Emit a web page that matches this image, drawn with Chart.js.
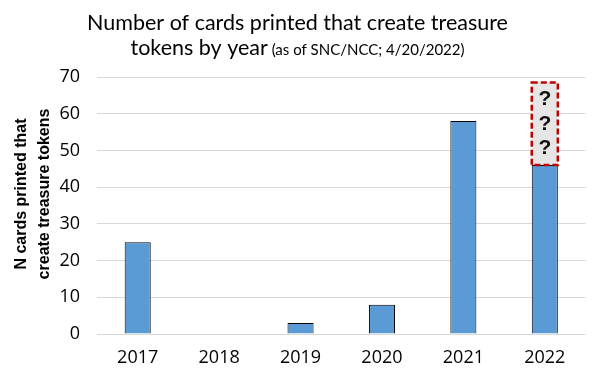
<!DOCTYPE html>
<html>
<head>
<meta charset="utf-8">
<script src="https://cdn.jsdelivr.net/npm/chart.js@4"></script>
<style>
  html, body { margin: 0; padding: 0; background: #fff; }
  #wrap { width: 595px; height: 371px; }
</style>
</head>
<body>
<div id="wrap"><canvas id="myChart"></canvas></div>
<script>
// data
const years = ['2017', '2018', '2019', '2020', '2021', '2022'];
const printed = [25, 0, 3, 8, 58, 46];
const unknown = [0, 0, 0, 0, 0, 22.5];
const yTicks = [0, 10, 20, 30, 40, 50, 60, 70];

const titleLine1 = 'Number of cards printed that create treasure';
const titleLine2 = 'tokens by year';
const titleNote = ' (as of SNC/NCC; 4/20/2022)';
const yTitle = ['N cards printed that', 'create treasure tokens'];

// title, y title, dashed "unknown" box
const decorations = {
  id: 'decorations',
  afterDraw(chart) {
    const ctx = chart.ctx;
    ctx.save();
    ctx.fillStyle = '#000';
    ctx.textBaseline = 'alphabetic';
    ctx.textAlign = 'left';
    const cx = 297.5;

    ctx.font = '21.5px Lato';
    let w = ctx.measureText(titleLine1).width;
    ctx.fillText(titleLine1, cx - w / 2, 30);

    const w2a = ctx.measureText(titleLine2).width;
    ctx.font = '15px Lato';
    const w2b = ctx.measureText(titleNote).width;
    let x = cx - (w2a + w2b) / 2;
    ctx.font = '21.5px Lato';
    ctx.fillText(titleLine2, x, 55);
    ctx.font = '15px Lato';
    ctx.fillText(titleNote, x + w2a, 55);

    // y axis title
    ctx.font = 'bold 16px "Liberation Sans"';
    ctx.textAlign = 'center';
    ctx.textBaseline = 'middle';
    ctx.translate(0, 194);
    ctx.rotate(-Math.PI / 2);
    ctx.fillText(yTitle[0], 0, 22);
    ctx.fillText(yTitle[1], 0, 45);
    ctx.restore();

    // dashed box over the unknown part
    const meta = chart.getDatasetMeta(1);
    meta.data.forEach((bar, i) => {
      if (!unknown[i]) return;
      const p = bar.getProps(['x', 'y', 'base', 'width'], true);
      const left = p.x - p.width / 2;
      const h = p.base - p.y;
      ctx.save();
      ctx.strokeStyle = '#c00000';
      ctx.lineWidth = 2.5;
      ctx.setLineDash([6, 3]);
      ctx.strokeRect(left, p.y, p.width, h);
      ctx.setLineDash([]);
      ctx.fillStyle = '#111';
      ctx.font = 'bold 21px "Liberation Sans"';
      ctx.textAlign = 'center';
      ctx.textBaseline = 'middle';
      for (let k = 0; k < 3; k++) {
        ctx.fillText('?', p.x, p.y + h * (0.2 + 0.3 * k));
      }
      ctx.restore();
    });
  }
};

const config = {
  type: 'bar',
  data: {
    labels: years,
    datasets: [{
      label: 'Printed',
      data: printed,
      backgroundColor: '#5b9bd5',
      borderColor: '#000',
      borderWidth: 1,
      barPercentage: 0.32,
      categoryPercentage: 1
    }, {
      label: 'Unknown',
      data: unknown,
      backgroundColor: '#e7e6e6',
      borderWidth: 0,
      barPercentage: 0.32,
      categoryPercentage: 1
    }]
  },
  options: {
    responsive: true,
    maintainAspectRatio: false,
    animation: false,
    layout: { padding: { top: 77, right: 9.5, bottom: 0, left: 0 } },
    scales: {
      x: {
        stacked: true,
        grid: { display: false },
        border: { display: false },
        ticks: {
          color: '#000',
          padding: 5,
          maxRotation: 0,
          font: { size: 18, family: '"Open Sans"' }
        },
        afterFit: (scale) => { scale.height = 37; }
      },
      y: {
        stacked: true,
        min: 0,
        max: 70,
        afterBuildTicks: (scale) => { scale.ticks = yTicks.map(v => ({ value: v })); },
        grid: { color: '#d9d9d9', drawTicks: false },
        border: { display: false },
        ticks: {
          color: '#000',
          padding: 17,
          font: { size: 18, family: '"Open Sans"' }
        },
        afterFit: (scale) => { scale.width = 97; }
      }
    },
    plugins: {
      legend: { display: false },
      tooltip: { enabled: false }
    }
  },
  plugins: [decorations]
};

const myChart = new Chart(document.getElementById('myChart'), config);
</script>
</body>
</html>
